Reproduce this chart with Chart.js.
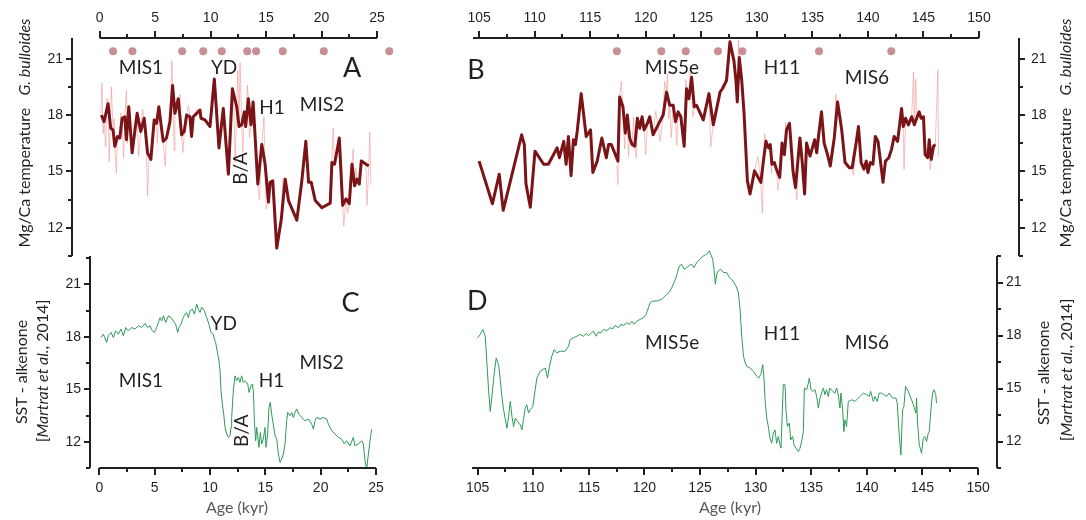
<!DOCTYPE html>
<html>
<head>
<meta charset="utf-8">
<script src="https://cdn.jsdelivr.net/npm/chart.js@4.4.0/dist/chart.umd.min.js"></script>
<style>
html, body { margin: 0; padding: 0; background: #fff; }
#wrap { position: relative; width: 1086px; height: 520px; }
#wrap canvas { position: absolute; left: 0; top: 0; }
</style>
</head>
<body>
<div id="wrap">
  <canvas id="panelC" width="1086" height="520"></canvas>
  <canvas id="panelD" width="1086" height="520"></canvas>
  <canvas id="panelA" width="1086" height="520"></canvas>
  <canvas id="panelB" width="1086" height="520"></canvas>
</div>
<script>
// ---- data (age in kyr, temperature in °C) ----
const youngTicks = [0, 5, 10, 15, 20, 25];
const oldTicks = [105, 110, 115, 120, 125, 130, 135, 140, 145, 150];
const tempTicks = [12, 15, 18, 21];

// Mg/Ca G. bulloides, smoothed (thick) and raw (thin) - Holocene / deglaciation
const mgcaA = [[0.15,18.00],[0.39,17.65],[0.75,18.6],[0.99,17.30],[1.20,17.21],[1.36,16.34],[1.60,16.86],[1.81,16.78],[2.02,17.83],[2.26,17.91],[2.41,16.69],[2.62,18.44],[2.92,15.99],[3.37,18.09],[3.70,17.13],[4.01,17.83],[4.31,15.99],[4.61,15.64],[4.91,17.74],[5.12,17.56],[5.33,18.44],[5.72,16.60],[6.02,16.78],[6.33,17.65],[6.57,19.57],[6.78,18.09],[7.08,18.87],[7.38,16.95],[7.62,17.13],[7.83,18.00],[8.13,17.91],[8.28,16.86],[8.43,17.91],[9.04,18.26],[9.13,17.83],[9.49,17.74],[9.94,17.39],[10.33,19.92],[10.75,16.25],[11.14,18.35],[11.60,14.85],[11.96,19.40],[12.35,18.44],[12.56,17.39],[12.80,17.48],[13.04,18.17],[13.16,17.39],[13.40,18.87],[13.64,17.48],[13.83,18.70],[14.25,14.33],[14.61,16.43],[14.91,15.38],[15.21,13.37],[15.36,14.42],[15.60,14.50],[15.96,10.92],[16.36,12.41],[16.72,14.59],[17.02,13.45],[17.77,12.41],[18.22,14.50],[18.58,16.60],[18.83,14.42],[19.07,14.42],[19.43,13.45],[20.03,13.07],[20.78,13.31],[20.93,15.47],[21.17,15.38],[21.60,16.78],[21.90,13.19],[22.20,13.54],[22.50,13.28],[22.74,15.38],[22.98,14.24],[23.19,14.59],[23.40,14.33],[23.58,15.55],[24.25,15.29]];
const mgcaRawA = [[0.10,18.1],[0.20,19.7],[0.30,17.0],[0.40,17.6],[0.55,16.3],[0.65,18.9],[0.75,18.7],[0.85,15.5],[0.95,17.4],[1.05,19.5],[1.20,17.2],[1.30,17.8],[1.40,16.0],[1.50,14.9],[1.60,16.9],[1.80,16.7],[1.90,18.1],[2.00,17.8],[2.15,15.7],[2.30,18.2],[2.40,19.3],[2.50,16.5],[2.62,18.4],[2.75,17.0],[2.92,16.0],[3.10,17.5],[3.37,18.1],[3.50,15.8],[3.70,17.1],[3.85,18.3],[4.01,17.8],[4.20,16.2],[4.31,13.7],[4.45,15.8],[4.61,15.6],[4.80,16.8],[4.91,17.7],[5.12,17.6],[5.20,16.5],[5.33,18.4],[5.50,17.6],[5.72,16.6],[5.90,15.3],[6.02,16.8],[6.20,17.1],[6.33,17.6],[6.50,20.9],[6.57,19.6],[6.70,16.1],[6.78,18.1],[6.95,18.4],[7.08,18.9],[7.25,19.1],[7.38,16.9],[7.50,16.0],[7.62,17.1],[7.83,18.0],[8.00,18.5],[8.13,17.9],[8.28,16.9],[8.43,17.9],[8.70,18.3],[9.04,18.3],[9.13,17.8],[9.49,17.7],[9.94,17.4],[10.10,18.3],[10.33,19.9],[10.45,18.6],[10.75,16.2],[10.90,17.0],[11.14,18.4],[11.30,16.5],[11.60,14.9],[11.75,18.0],[11.96,19.4],[12.10,18.5],[12.20,15.5],[12.35,18.4],[12.45,20.4],[12.56,17.4],[12.65,20.8],[12.80,17.5],[12.90,16.0],[13.04,18.2],[13.16,17.4],[13.30,19.6],[13.40,18.9],[13.50,16.8],[13.64,17.5],[13.83,18.7],[14.00,16.6],[14.25,14.3],[14.40,13.5],[14.61,16.4],[14.80,17.9],[14.91,15.4],[15.00,13.0],[15.21,13.4],[15.36,14.4],[15.60,14.5],[15.80,13.0],[15.96,10.9],[16.20,12.0],[16.36,12.4],[16.50,14.6],[16.72,14.6],[16.90,14.0],[17.02,13.5],[17.40,12.9],[17.77,12.4],[18.00,13.4],[18.22,14.5],[18.58,16.6],[18.70,15.5],[18.83,14.4],[19.07,14.4],[19.43,13.5],[20.03,13.1],[20.78,13.3],[20.93,15.5],[21.05,17.3],[21.17,15.4],[21.35,16.0],[21.60,16.8],[21.75,14.2],[21.90,13.2],[22.00,12.1],[22.20,13.5],[22.35,12.8],[22.50,13.3],[22.74,15.4],[22.85,16.2],[22.98,14.2],[23.10,15.2],[23.19,14.6],[23.40,14.3],[23.58,15.6],[23.80,15.6],[24.00,15.3],[24.10,13.2],[24.25,15.3],[24.35,17.1],[24.45,14.3]];

// Mg/Ca G. bulloides - last interglacial / termination II
const mgcaB = [[105.0,15.55],[106.2,13.28],[106.81,14.85],[107.17,12.93],[108.83,16.95],[109.07,16.43],[109.22,14.33],[109.61,13.10],[110.03,16.08],[110.81,15.38],[111.23,15.38],[112.02,16.25],[112.23,15.73],[112.62,16.60],[112.83,15.38],[113.04,16.86],[113.28,14.77],[113.49,16.69],[113.67,16.43],[113.83,17.13],[114.19,19.14],[114.64,16.86],[115.03,17.21],[115.24,14.94],[115.63,15.55],[116.05,16.78],[116.45,15.73],[116.66,16.43],[116.90,16.43],[117.50,15.55],[117.65,18.96],[117.95,18.44],[118.16,17.04],[118.34,18.00],[118.55,16.78],[118.77,16.43],[119.01,16.34],[119.25,17.83],[119.46,17.30],[119.67,17.91],[119.85,17.21],[120.15,17.56],[120.36,17.91],[120.66,16.95],[121.11,17.48],[121.57,18.00],[121.87,19.22],[122.17,18.52],[122.47,18.52],[122.68,17.65],[122.92,18.17],[123.16,17.91],[123.46,16.34],[123.67,19.40],[123.89,18.87],[124.13,20.01],[124.37,18.44],[124.58,18.52],[125.18,17.74],[125.69,19.14],[126.08,17.48],[126.69,19.22],[126.90,19.40],[127.27,19.84],[127.58,21.9],[127.94,20.88],[128.12,19.84],[128.24,18.70],[128.42,21.06],[128.64,19.84],[128.85,18.09],[129.15,14.50],[129.39,13.80],[129.79,15.03],[130.36,14.42],[130.61,15.64],[130.82,16.60],[131.06,16.25],[131.21,16.43],[131.36,15.38],[131.58,15.47],[131.76,15.12],[132.06,14.68],[132.27,16.51],[132.48,15.90],[132.67,17.21],[132.94,17.56],[133.27,14.94],[133.48,14.15],[133.88,16.78],[134.09,15.47],[134.30,13.80],[134.48,16.51],[134.79,15.82],[135.00,16.25],[135.21,16.69],[135.39,15.99],[135.55,16.86],[135.82,18.17],[136.06,16.51],[136.36,15.90],[136.61,15.29],[136.97,16.78],[137.27,18.70],[137.64,17.21],[137.94,15.47],[138.33,15.20],[138.58,15.20],[138.94,16.51],[139.15,17.39],[139.39,15.47],[139.64,15.12],[139.85,15.55],[140.00,14.94],[140.21,15.47],[140.45,15.38],[140.67,16.86],[140.91,16.60],[141.36,14.42],[141.58,15.55],[141.88,15.73],[142.12,16.16],[142.36,16.86],[142.67,16.60],[143.03,18.35],[143.18,17.39],[143.39,17.83],[143.64,17.48],[143.94,17.91],[144.18,17.48],[144.39,17.83],[144.61,18.17],[144.79,17.83],[145.00,17.91],[145.15,15.90],[145.39,15.73],[145.52,16.69],[145.70,15.64],[145.91,16.34],[146.06,16.43]];
const mgcaRawB = [[117.4,15.3],[117.5,14.3],[117.65,19.0],[117.8,19.8],[117.95,18.4],[118.1,16.2],[118.16,17.0],[118.34,18.0],[118.45,15.8],[118.55,16.8],[118.77,16.4],[118.9,17.9],[119.01,16.3],[119.15,15.7],[119.25,17.8],[119.46,17.3],[119.67,17.9],[119.85,17.2],[120.0,15.9],[120.15,17.6],[120.36,17.9],[120.66,17.0],[120.9,18.2],[121.11,17.5],[121.3,16.6],[121.57,18.0],[121.7,19.8],[121.87,19.2],[121.95,20.2],[122.05,17.8],[122.17,18.5],[122.3,16.8],[122.47,18.5],[122.68,17.6],[122.8,16.4],[122.92,18.2],[123.16,17.9],[123.46,16.3],[123.6,19.9],[123.67,19.4],[123.89,18.9],[124.0,20.4],[124.13,20.0],[124.25,17.9],[124.37,18.4],[124.58,18.5],[124.9,18.2],[125.18,17.7],[125.4,18.5],[125.69,19.1],[125.85,16.3],[126.08,17.5],[126.69,19.2],[126.9,19.4],[127.38,19.9],[127.6,21.9],[127.94,20.9],[128.12,19.8],[128.24,18.7],[128.35,22.0],[128.42,21.1],[128.64,19.8],[128.85,18.1],[129.15,14.5],[129.39,13.8],[129.79,15.0],[130.1,15.8],[130.36,14.4],[130.5,12.8],[130.61,15.6],[130.7,17.0],[130.82,16.6],[131.06,16.3],[131.21,16.4],[131.3,14.9],[131.36,15.4],[131.58,15.5],[131.76,15.1],[131.9,14.0],[132.06,14.7],[132.27,16.5],[132.48,15.9],[132.6,17.6],[132.67,17.2],[132.94,17.6],[133.1,16.3],[133.27,14.9],[133.48,14.2],[133.6,13.5],[133.88,16.8],[134.09,15.5],[134.3,13.8],[134.48,16.5],[134.79,15.8],[135.0,16.3],[135.21,16.7],[135.39,16.0],[135.55,16.9],[135.82,18.2],[135.9,17.5],[136.06,16.5],[136.36,15.9],[136.61,15.3],[136.97,16.8],[137.1,19.1],[137.27,18.7],[137.64,17.2],[137.94,15.5],[138.33,15.2],[138.58,15.2],[138.7,14.8],[138.94,16.5],[139.15,17.4],[139.39,15.5],[139.64,15.1],[139.85,15.6],[140.0,14.9],[140.21,15.5],[140.45,15.4],[140.67,16.9],[140.91,16.6],[141.2,15.6],[141.36,14.4],[141.58,15.6],[141.88,15.7],[142.12,16.2],[142.36,16.9],[142.67,16.6],[142.9,17.3],[143.03,18.4],[143.18,17.4],[143.25,15.1],[143.39,17.8],[143.64,17.5],[143.94,17.9],[144.1,20.3],[144.18,17.5],[144.3,19.9],[144.39,17.8],[144.61,18.2],[144.79,17.8],[145.0,17.9],[145.15,15.9],[145.39,15.7],[145.52,16.7],[145.6,15.1],[145.7,15.6],[145.91,16.3],[146.06,16.4],[146.3,20.4],[146.35,15.8]];

// age control points (dots above the Mg/Ca records)
const datingA = [1.2, 2.95, 7.43, 9.33, 11.0, 13.3, 14.1, 16.5, 20.2, 26.1];
const datingB = [117.4, 121.4, 123.6, 126.5, 128.7, 135.6, 142.1];
const datingRow = 21.4;

// alkenone SST (Martrat et al., 2014)
const sstC = [[0.15,17.96],[0.36,18.15],[0.67,17.68],[0.81,18.06],[1.06,18.25],[1.27,17.96],[1.48,18.34],[1.72,18.15],[1.96,18.44],[2.17,18.06],[2.38,18.53],[2.62,18.34],[2.92,18.53],[3.22,18.44],[3.52,18.63],[3.83,18.53],[4.13,18.76],[4.37,18.53],[4.58,18.63],[4.79,18.34],[4.97,18.25],[5.18,18.53],[5.49,19.10],[5.64,18.91],[5.79,19.20],[6.00,18.82],[6.24,19.20],[6.48,19.10],[6.69,18.91],[6.90,18.72],[7.08,18.25],[7.20,18.53],[7.38,18.72],[7.59,19.10],[7.74,19.30],[7.89,19.39],[8.04,19.10],[8.20,19.49],[8.41,19.58],[8.59,19.30],[8.80,19.87],[8.95,19.58],[9.10,19.39],[9.25,19.68],[9.49,19.49],[9.70,19.10],[9.91,18.72],[10.09,18.25],[10.30,18.15],[10.39,17.87],[10.51,17.68],[10.70,17.01],[10.82,16.63],[10.91,16.06],[11.00,14.91],[11.12,14.15],[11.24,13.58],[11.36,12.82],[11.51,12.44],[11.66,12.25],[11.81,12.34],[11.90,12.82],[11.96,13.39],[12.11,14.91],[12.26,15.77],[12.41,15.49],[12.56,15.68],[12.71,15.39],[12.86,15.77],[13.01,15.39],[13.16,15.49],[13.41,15.30],[13.53,14.82],[13.71,15.20],[13.83,15.30],[13.92,14.91],[14.01,13.20],[14.13,12.06],[14.22,12.82],[14.31,12.34],[14.43,11.68],[14.55,12.53],[14.67,11.87],[14.82,12.15],[14.97,12.82],[15.06,11.68],[15.21,12.44],[15.33,13.96],[15.45,14.25],[15.57,13.58],[15.72,13.01],[15.88,12.34],[16.03,12.15],[16.18,11.30],[16.33,10.82],[16.48,11.01],[16.63,11.30],[16.78,11.87],[16.93,13.20],[17.02,13.68],[17.23,13.49],[17.38,13.68],[17.53,13.39],[17.68,13.68],[17.83,13.87],[18.04,13.58],[18.28,13.39],[18.59,13.20],[18.89,13.30],[19.19,13.01],[19.34,12.72],[19.49,13.20],[19.64,13.39],[19.94,13.30],[20.24,13.39],[20.54,13.30],[20.70,13.01],[21.00,12.63],[21.30,12.44],[21.60,12.25],[21.90,12.15],[22.14,11.87],[22.35,12.06],[22.65,11.77],[22.95,12.25],[23.10,11.77],[23.41,11.87],[23.71,12.06],[23.86,11.87],[24.01,10.91],[24.16,10.44],[24.31,11.30],[24.46,12.06],[24.61,12.72]];
const sstD = [[105.0,17.87],[105.24,18.06],[105.48,18.34],[105.69,17.96],[105.84,16.45],[105.99,14.93],[106.14,13.70],[106.29,14.55],[106.50,15.88],[106.68,16.73],[106.89,16.35],[107.04,15.50],[107.19,14.55],[107.34,13.80],[107.64,12.75],[107.79,13.42],[107.94,14.27],[108.09,13.42],[108.24,12.85],[108.39,13.32],[108.60,13.13],[108.84,12.94],[108.99,12.66],[109.13,13.23],[109.28,13.89],[109.43,14.08],[109.58,13.61],[109.73,13.80],[109.97,13.98],[110.18,14.93],[110.33,15.59],[110.63,15.97],[110.87,16.07],[111.08,16.16],[111.29,15.59],[111.47,16.26],[111.68,16.83],[111.89,17.20],[112.13,17.02],[112.43,17.11],[112.88,17.11],[113.18,17.39],[113.33,17.77],[113.63,17.87],[113.93,17.96],[114.22,18.06],[114.52,17.96],[114.76,18.11],[114.97,18.00],[115.18,18.11],[115.42,18.25],[115.66,17.96],[115.87,18.19],[116.08,18.15],[116.32,18.34],[116.62,18.28],[116.92,18.44],[117.16,18.38],[117.37,18.57],[117.67,18.44],[117.88,18.63],[118.12,18.57],[118.42,18.72],[118.66,18.63],[118.87,18.81],[119.08,18.63],[119.31,18.81],[119.61,18.91],[119.91,19.00],[120.15,19.19],[120.36,19.57],[120.51,19.86],[120.75,19.95],[121.11,19.95],[121.56,20.05],[121.86,20.23],[122.01,20.33],[122.25,20.46],[122.46,20.71],[122.66,20.99],[122.84,21.28],[122.96,21.56],[123.15,21.94],[123.36,22.03],[123.57,21.75],[123.81,21.84],[124.04,21.98],[124.25,22.03],[124.46,21.84],[124.70,22.13],[125.00,22.32],[125.30,22.51],[125.60,22.60],[125.84,22.79],[125.96,22.60],[126.14,22.32],[126.26,21.75],[126.38,20.90],[126.50,21.47],[126.65,21.66],[126.86,21.75],[127.10,21.56],[127.40,21.56],[127.64,21.28],[127.85,21.18],[128.06,20.99],[128.24,20.80],[128.45,20.42],[128.60,19.48],[128.75,17.96],[128.91,16.83],[129.06,16.45],[129.21,16.26],[129.51,16.16],[129.81,15.97],[130.10,15.69],[130.27,15.59],[130.46,15.78],[130.64,16.35],[130.76,15.50],[130.85,14.36],[131.00,13.32],[131.14,12.85],[131.29,12.19],[131.44,11.90],[131.59,12.47],[131.74,12.66],[131.89,11.90],[132.04,12.28],[132.19,11.81],[132.28,11.62],[132.37,13.23],[132.49,15.22],[132.64,15.22],[132.73,13.80],[132.85,12.85],[133.03,13.04],[133.15,12.09],[133.33,12.28],[133.45,11.81],[133.63,11.62],[133.84,11.43],[133.99,11.62],[134.14,12.00],[134.29,12.56],[134.38,15.03],[134.59,14.93],[134.74,15.31],[134.83,15.59],[134.98,14.93],[135.13,14.84],[135.34,14.93],[135.49,14.55],[135.64,13.89],[135.79,14.46],[135.94,14.74],[136.09,15.03],[136.23,14.65],[136.38,14.93],[136.53,14.55],[136.68,15.03],[136.92,14.84],[137.13,14.74],[137.28,15.03],[137.43,14.65],[137.58,13.89],[137.67,14.74],[137.82,13.80],[137.94,12.56],[138.03,13.23],[138.18,12.85],[138.33,14.27],[138.63,14.36],[138.93,14.27],[139.38,14.55],[139.68,14.74],[139.98,14.65],[140.22,14.55],[140.34,14.84],[140.58,14.27],[140.73,14.55],[140.93,14.27],[141.11,14.74],[141.32,14.74],[141.53,14.65],[141.77,14.55],[142.01,14.74],[142.31,14.46],[142.61,14.46],[142.73,14.17],[142.91,12.38],[143.06,11.24],[143.21,13.80],[143.33,13.98],[143.48,15.12],[143.72,14.84],[144.02,14.36],[144.23,13.98],[144.41,13.61],[144.47,14.46],[144.56,13.04],[144.71,11.81],[144.92,11.33],[145.07,12.19],[145.22,12.28],[145.37,12.00],[145.52,12.47],[145.61,12.56],[145.73,13.61],[145.91,14.74],[146.03,14.93],[146.20,14.65],[146.26,14.17]];

// ---- styling ----
const ink = '#231f20';
const thickRed = '#7b1417';
const rawPink = 'rgba(242,150,150,0.6)';
const dotPink = '#c98f96';
const green = '#2f9a58';
const tickFont = { family: 'Liberation Sans', size: 14 };

const pts = arr => arr.map(([x, y]) => ({ x, y }));
const row = ages => ages.map(x => ({ x, y: datingRow }));

function isOn(v, base, step) {
  const r = (v - base) / step;
  return Math.abs(r - Math.round(r)) < 1e-6;
}

// axis lines + major/minor ticks, drawn through the chart scales
const axisFrame = {
  id: 'axisFrame',
  afterDraw(chart, args, o) {
    const { ctx, chartArea: a } = chart;
    const sx = chart.scales.x, sy = chart.scales.y;
    const xLine = o.xSide === 'top' ? a.top : a.bottom;
    const xDir = o.xSide === 'top' ? -1 : 1;
    const yLine = o.ySide === 'left' ? a.left : a.right;
    const yDir = o.ySide === 'left' ? -1 : 1;
    ctx.save();
    ctx.strokeStyle = ink;
    ctx.lineWidth = 2;
    ctx.beginPath();
    ctx.moveTo(sx.getPixelForValue(o.xFrom), xLine);
    ctx.lineTo(sx.getPixelForValue(o.xTo), xLine);
    for (let v = o.xFirst; v <= o.xTo + 1e-6; v += 2.5) {
      const px = Math.round(sx.getPixelForValue(v));
      ctx.moveTo(px, xLine);
      ctx.lineTo(px, xLine + xDir * (isOn(v, o.xFirst, 5) ? 7 : 4));
    }
    ctx.moveTo(yLine, a.top);
    ctx.lineTo(yLine, a.bottom);
    for (let v = 10.5; v <= sy.max + 1e-6; v += 1.5) {
      const py = Math.round(sy.getPixelForValue(v));
      ctx.moveTo(yLine, py);
      ctx.lineTo(yLine + yDir * (isOn(v, 12, 3) ? 6 : 4), py);
    }
    ctx.stroke();
    ctx.restore();
  }
};

function drawRuns(ctx, t) {
  ctx.save();
  ctx.translate(t.cx, t.cy);
  if (t.rotate) ctx.rotate(-Math.PI / 2);
  ctx.fillStyle = t.color || ink;
  ctx.textBaseline = 'middle';
  ctx.textAlign = 'left';
  let total = 0;
  const widths = t.runs.map(([txt, style]) => {
    ctx.font = style + t.font;
    const w = ctx.measureText(txt).width;
    total += w;
    return w;
  });
  let x = -total / 2;
  t.runs.forEach(([txt, style], i) => {
    ctx.font = style + t.font;
    ctx.fillText(txt, x, 0);
    x += widths[i];
  });
  ctx.restore();
}

// panel annotations (data coordinates) and axis titles (page coordinates)
const panelText = {
  id: 'panelText',
  afterDraw(chart, args, o) {
    const ctx = chart.ctx;
    const sx = chart.scales.x, sy = chart.scales.y;
    ctx.save();
    ctx.fillStyle = ink;
    ctx.textAlign = 'center';
    ctx.textBaseline = 'middle';
    (o.notes || []).forEach(n => {
      ctx.save();
      ctx.translate(sx.getPixelForValue(n.at[0]), sy.getPixelForValue(n.at[1]));
      if (n.rotate) ctx.rotate(-Math.PI / 2);
      ctx.font = n.font;
      ctx.fillText(n.text, 0, 0);
      ctx.restore();
    });
    ctx.restore();
    (o.titles || []).forEach(t => drawRuns(ctx, t));
  }
};

const noteFont = '19px Lato';
const letterFont = '27px Lato';
const titleFont = '16px Lato';

function panel(id, cfg) {
  return new Chart(document.getElementById(id), {
    type: 'line',
    data: { datasets: cfg.datasets },
    options: {
      responsive: false,
      animation: false,
      events: [],
      layout: { padding: cfg.padding },
      plugins: {
        legend: { display: false },
        tooltip: { enabled: false },
        axisFrame: cfg.frame,
        panelText: cfg.text
      },
      scales: {
        x: {
          type: 'linear',
          position: cfg.frame.xSide,
          min: cfg.xRange[0],
          max: cfg.xRange[1],
          grid: { display: false, drawTicks: true, tickLength: 7 },
          border: { display: false },
          ticks: { font: tickFont, color: ink, padding: cfg.xPad, maxRotation: 0, callback: v => String(v) },
          afterBuildTicks: s => { s.ticks = cfg.xTicks.map(v => ({ value: v })); },
          afterFit: s => {
            s.height = cfg.xSize;
            s.paddingLeft = s.paddingRight = s.paddingTop = s.paddingBottom = 0;
          }
        },
        y: {
          type: 'linear',
          position: cfg.frame.ySide,
          min: cfg.yRange[0],
          max: cfg.yRange[1],
          grid: { display: false, drawTicks: true, tickLength: 6 },
          border: { display: false },
          ticks: { font: tickFont, color: ink, padding: cfg.yPad, callback: v => String(v) },
          afterBuildTicks: s => { s.ticks = tempTicks.map(v => ({ value: v })); },
          afterFit: s => {
            s.width = 40;
            s.paddingLeft = s.paddingRight = s.paddingTop = s.paddingBottom = 0;
          }
        }
      }
    },
    plugins: [axisFrame, panelText]
  });
}

// Chart.js paints the first dataset last, so the order here is top-to-bottom
function mgcaSets(smooth, raw, dating) {
  return [
    { data: row(dating), showLine: false, pointRadius: 4, pointBackgroundColor: dotPink, pointBorderWidth: 0, clip: false },
    { data: pts(smooth), borderColor: thickRed, borderWidth: 3, borderJoinStyle: 'round', pointRadius: 0, clip: false },
    { data: pts(raw), borderColor: rawPink, borderWidth: 1, pointRadius: 0, clip: false }
  ];
}

const mgcaTitle = [['Mg/Ca temperature', ''], ['   ', ''], ['G. bulloides', 'italic ']];
const sstTitle1 = [['SST - alkenone', '']];
const sstTitle2 = [['[', ''], ['Martrat et al.', 'italic '], [', 2014]', '']];

panel('panelC', {
  datasets: [{ data: pts(sstC), borderColor: green, borderWidth: 1, pointRadius: 0, clip: false }],
  padding: { left: 50, right: 710, top: 256, bottom: 12 },
  xRange: [-0.84, 25], yRange: [10.5, 22.62], xTicks: youngTicks, xSize: 40, xPad: 5, yPad: 3,
  frame: { xSide: 'bottom', ySide: 'left', xFrom: 0, xTo: 25, xFirst: 0 },
  text: {
    notes: [
      { text: 'C', at: [22.7, 19.89], font: letterFont },
      { text: 'YD', at: [11.24, 18.74], font: noteFont },
      { text: 'MIS1', at: [3.76, 15.48], font: noteFont },
      { text: 'H1', at: [15.57, 15.48], font: noteFont },
      { text: 'MIS2', at: [20.08, 16.51], font: noteFont },
      { text: 'B/A', at: [12.87, 12.63], font: noteFont, rotate: true }
    ],
    titles: [
      { cx: 22, cy: 372, rotate: true, font: titleFont, runs: sstTitle1 },
      { cx: 43, cy: 371, rotate: true, font: titleFont, runs: sstTitle2 },
      { cx: 237, cy: 508, font: titleFont, color: '#595959', runs: [['Age (kyr)', '']] }
    ]
  }
});

panel('panelD', {
  datasets: [{ data: pts(sstD), borderColor: green, borderWidth: 1, pointRadius: 0, clip: false }],
  padding: { left: 472, right: 49, top: 256, bottom: 12 },
  xRange: [104.5, 151.7], yRange: [10.5, 22.5], xTicks: oldTicks, xSize: 40, xPad: 5, yPad: 3,
  frame: { xSide: 'bottom', ySide: 'right', xFrom: 104.5, xTo: 150, xFirst: 105 },
  text: {
    notes: [
      { text: 'D', at: [104.97, 19.92], font: letterFont },
      { text: 'MIS5e', at: [122.49, 17.6], font: noteFont },
      { text: 'H11', at: [132.37, 18.11], font: noteFont },
      { text: 'MIS6', at: [140.0, 17.6], font: noteFont }
    ],
    titles: [
      { cx: 1044, cy: 373, rotate: true, font: titleFont, runs: sstTitle1 },
      { cx: 1067, cy: 370, rotate: true, font: titleFont, runs: sstTitle2 },
      { cx: 730, cy: 508, font: titleFont, color: '#595959', runs: [['Age (kyr)', '']] }
    ]
  }
});

// plot area of A runs a little past 25 kyr so the last dating dot is kept
panel('panelA', {
  datasets: mgcaSets(mgcaA, mgcaRawA, datingA),
  padding: { left: 32, right: 691, top: 0, bottom: 264 },
  xRange: [-2.5, 26.62], yRange: [10.5, 22.1], xTicks: youngTicks, xSize: 38, xPad: 4, yPad: 3,
  frame: { xSide: 'top', ySide: 'left', xFrom: 0, xTo: 25, xFirst: 0 },
  text: {
    notes: [
      { text: 'A', at: [22.75, 20.47], font: letterFont },
      { text: 'MIS1', at: [3.72, 20.52], font: noteFont },
      { text: 'YD', at: [11.21, 20.52], font: noteFont },
      { text: 'H1', at: [15.54, 18.37], font: noteFont },
      { text: 'MIS2', at: [20.04, 18.53], font: noteFont },
      { text: 'B/A', at: [12.74, 15.16], font: noteFont, rotate: true }
    ],
    titles: [
      { cx: 25, cy: 133, rotate: true, font: titleFont, runs: mgcaTitle }
    ]
  }
});

panel('panelB', {
  datasets: mgcaSets(mgcaB, mgcaRawB, datingB),
  padding: { left: 473, right: 27, top: 0, bottom: 264 },
  xRange: [104.45, 153.6], yRange: [10.5, 22.1], xTicks: oldTicks, xSize: 38, xPad: 4, yPad: 6,
  frame: { xSide: 'top', ySide: 'right', xFrom: 104.45, xTo: 150, xFirst: 105 },
  text: {
    notes: [
      { text: 'B', at: [104.72, 20.36], font: letterFont },
      { text: 'MIS5e', at: [122.36, 20.52], font: noteFont },
      { text: 'H11', at: [132.26, 20.52], font: noteFont },
      { text: 'MIS6', at: [139.91, 20.0], font: noteFont }
    ],
    titles: [
      { cx: 1066, cy: 133, rotate: true, font: titleFont, runs: mgcaTitle }
    ]
  }
});
</script>
</body>
</html>
